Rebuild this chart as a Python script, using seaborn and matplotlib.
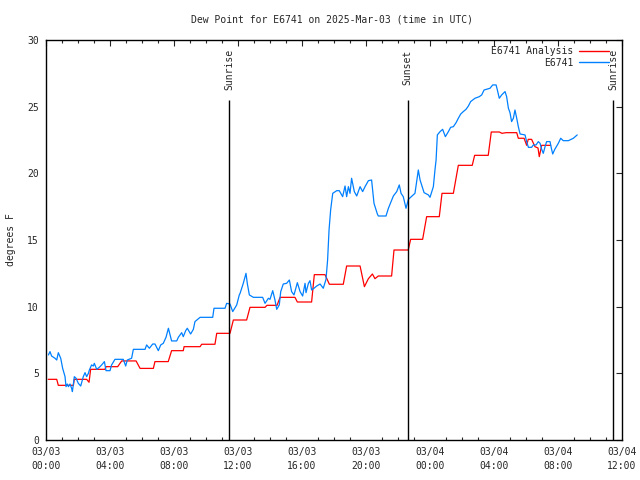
import numpy as np
import pandas as pd
import matplotlib
matplotlib.use("Agg")
import matplotlib.pyplot as plt
from matplotlib.ticker import MultipleLocator
import seaborn as sns

# ---------------- data ----------------
title = "Dew Point for E6741 on 2025-Mar-03 (time in UTC)"
ylabel = "degrees F"

# hours since 2025-03-03 00:00 UTC
obs_hours = [0.15, 0.25, 0.35, 0.56, 0.67, 0.77, 0.92, 1.04, 1.19, 1.25, 1.33, 1.40, 1.50,
             1.60, 1.65, 1.77, 1.88, 2.02, 2.17, 2.33, 2.44, 2.54, 2.65, 2.71, 2.85, 2.96,
             3.02, 3.17, 3.33, 3.48, 3.65, 3.75, 4.00, 4.10, 4.31, 4.83, 4.98, 5.08, 5.35,
             5.46, 6.19, 6.29, 6.46, 6.67, 6.81, 7.02, 7.17, 7.33, 7.50, 7.65, 7.85, 8.17,
             8.27, 8.48, 8.58, 8.73, 8.83, 9.04, 9.21, 9.31, 9.63, 10.42, 10.50, 11.19,
             11.29, 11.50, 11.67, 11.92, 12.08, 12.13, 12.33, 12.50, 12.58, 12.71, 12.96,
             13.54, 13.69, 13.90, 14.00, 14.17, 14.31, 14.42, 14.58, 14.67, 14.83, 15.04,
             15.21, 15.35, 15.50, 15.71, 15.88, 16.04, 16.19, 16.25, 16.40, 16.50, 16.60,
             16.75, 16.92, 17.13, 17.33, 17.50, 17.60, 17.69, 17.79, 17.92, 18.17, 18.33,
             18.54, 18.69, 18.79, 18.90, 19.00, 19.10, 19.27, 19.42, 19.63, 19.79, 19.94,
             20.15, 20.35, 20.50, 20.71, 20.77, 21.25, 21.40, 21.54, 21.71, 21.92, 22.08,
             22.19, 22.33, 22.50, 22.65, 22.79, 23.06, 23.21, 23.27, 23.38, 23.63, 23.90,
             24.00, 24.21, 24.31, 24.38, 24.46, 24.63, 24.79, 24.96, 25.15, 25.29, 25.46,
             25.63, 25.77, 25.92, 26.08, 26.25, 26.40, 26.54, 26.81, 27.08, 27.23, 27.38,
             27.75, 27.92, 28.13, 28.21, 28.33, 28.48, 28.69, 28.79, 28.90, 29.00, 29.10,
             29.21, 29.31, 29.42, 29.52, 29.63, 29.94, 30.04, 30.15, 30.35, 30.46, 30.63,
             30.77, 30.88, 30.98, 31.08, 31.19, 31.29, 31.50, 31.60, 31.67, 31.80, 32.02,
             32.17, 32.33, 32.65, 32.96, 33.20]
obs_values = [6.38, 6.63, 6.30, 6.13, 6.00, 6.55, 6.13, 5.38, 4.75, 4.00, 4.20, 4.00, 4.20,
              3.88, 3.63, 4.75, 4.63, 4.25, 4.05, 4.75, 5.05, 4.75, 5.00, 5.25, 5.63, 5.55,
              5.75, 5.30, 5.45, 5.63, 5.88, 5.20, 5.20, 5.63, 6.05, 6.05, 5.55, 6.00, 6.13,
              6.80, 6.80, 7.13, 6.88, 7.20, 7.20, 6.70, 7.13, 7.25, 7.70, 8.38, 7.43, 7.43,
              7.70, 8.05, 7.75, 8.20, 8.38, 7.95, 8.30, 8.88, 9.20, 9.20, 9.88, 9.88,
              10.25, 10.20, 9.63, 10.13, 10.88, 11.00, 11.75, 12.50, 11.75, 10.88, 10.70,
              10.70, 10.25, 10.63, 10.55, 11.20, 10.50, 9.80, 10.13, 11.13, 11.70, 11.75,
              12.00, 11.13, 10.88, 11.80, 11.13, 10.80, 11.75, 11.05, 11.75, 11.95, 11.25,
              11.38, 11.55, 11.70, 11.38, 12.05, 13.50, 15.75, 17.25, 18.50, 18.70, 18.70,
              18.25, 19.05, 18.25, 19.00, 18.50, 19.63, 18.63, 18.30, 19.00, 18.63, 19.00,
              19.45, 19.50, 17.75, 16.95, 16.80, 16.80, 17.38, 17.80, 18.30, 18.63, 19.13,
              18.50, 18.25, 17.38, 18.05, 18.20, 18.50, 19.75, 20.25, 19.50, 18.55, 18.38,
              18.20, 19.00, 20.25, 21.00, 22.88, 23.13, 23.30, 22.75, 23.13, 23.45, 23.50,
              23.80, 24.13, 24.45, 24.63, 24.80, 25.05, 25.38, 25.63, 25.75, 25.88, 26.25,
              26.38, 26.63, 26.63, 26.25, 25.63, 25.88, 26.13, 25.75, 24.88, 24.55, 23.88,
              24.13, 24.75, 24.13, 23.50, 22.95, 22.88, 22.38, 21.95, 21.95, 22.13, 22.13,
              22.38, 22.25, 21.80, 21.50, 22.00, 22.38, 22.38, 21.80, 21.45, 21.80, 22.25,
              22.63, 22.45, 22.45, 22.63, 22.88]

ana_hours = [0.14, 0.67, 0.77, 1.71, 1.77, 2.54, 2.69, 2.79, 3.69, 3.75, 4.48, 4.73, 5.63,
             5.88, 6.71, 6.81, 7.64, 7.85, 8.58, 8.63, 9.63, 9.73, 10.56, 10.67, 11.50,
             11.71, 12.54, 12.75, 13.69, 13.81, 14.44, 14.63, 15.56, 15.71, 16.60, 16.77,
             17.44, 17.71, 18.58, 18.79, 19.63, 19.90, 20.15, 20.40, 20.56, 20.77, 21.60,
             21.75, 22.64, 22.79, 23.54, 23.79, 24.58, 24.75, 25.46, 25.77, 26.64, 26.79,
             27.64, 27.83, 28.33, 28.50, 28.75, 29.42, 29.52, 29.88, 30.04, 30.14, 30.35,
             30.56, 30.75, 30.83, 30.98, 31.54]
ana_values = [4.55, 4.55, 4.10, 4.10, 4.55, 4.55, 4.33, 5.30, 5.30, 5.50, 5.50, 5.93, 5.93,
              5.37, 5.37, 5.88, 5.88, 6.70, 6.70, 7.00, 7.00, 7.18, 7.18, 8.00, 8.00,
              9.00, 9.00, 9.95, 9.95, 10.10, 10.10, 10.70, 10.70, 10.35, 10.35, 12.40,
              12.40, 11.68, 11.68, 13.05, 13.05, 11.50, 12.10, 12.45, 12.10, 12.30, 12.30,
              14.25, 14.25, 15.05, 15.05, 16.75, 16.75, 18.50, 18.50, 20.60, 20.60, 21.35,
              21.35, 23.10, 23.10, 23.00, 23.05, 23.05, 22.63, 22.63, 22.10, 22.55, 22.55,
              22.00, 21.90, 21.25, 22.10, 22.10]

sun_hours = [11.44, 22.6, 35.44]
sun_labels = ["Sunrise", "Sunset", "Sunrise"]

xtick_hours = [0, 4, 8, 12, 16, 20, 24, 28, 32, 36]
xtick_labels = ["03/03\n00:00", "03/03\n04:00", "03/03\n08:00", "03/03\n12:00",
                "03/03\n16:00", "03/03\n20:00", "03/04\n00:00", "03/04\n04:00",
                "03/04\n08:00", "03/04\n12:00"]
yticks = [0, 5, 10, 15, 20, 25, 30]

series_names = ["E6741 Analysis", "E6741"]
series_colors = ["#ff0000", "#0080ff"]

# ---------------- plot ----------------
sns.set_style("white")
plt.rcParams["font.family"] = ["DejaVu Sans Mono"]
plt.rcParams["font.size"] = 7

fig = plt.figure(figsize=(6.4, 4.8), dpi=100)
ax = fig.add_axes([46 / 640, 40 / 480, 576 / 640, 400 / 480])

df_ana = pd.DataFrame({"hour": ana_hours, "value": ana_values, "series": series_names[0]})
df_obs = pd.DataFrame({"hour": obs_hours, "value": obs_values, "series": series_names[1]})
df = pd.concat([df_ana, df_obs], ignore_index=True)

sns.lineplot(data=df, x="hour", y="value", hue="series", hue_order=series_names,
             palette=series_colors, linewidth=0.9, ax=ax, sort=False, estimator=None)

# sunrise / sunset markers
for h, lab in zip(sun_hours, sun_labels):
    ax.vlines(h, 0, 25.5, color="black", linewidth=1.0)
    ax.text(h, 29.3, lab, rotation=90, ha="center", va="top", fontsize=7)

ax.set_xlim(0, 36)
ax.set_ylim(0, 30)
ax.set_xticks(xtick_hours)
ax.set_xticklabels(xtick_labels, linespacing=1.5)
ax.xaxis.set_minor_locator(MultipleLocator(1))
ax.set_yticks(yticks)
ax.set_yticklabels([str(v) for v in yticks])

ax.tick_params(axis="both", which="major", direction="in", length=4, width=0.8,
               top=True, right=True, pad=5, labelsize=7)
ax.tick_params(axis="x", which="minor", direction="in", length=2.2, width=0.8,
               top=True, bottom=True)
for s in ax.spines.values():
    s.set_visible(True)
    s.set_color("black")
    s.set_linewidth(1.0)

ax.set_xlabel("")
ax.set_ylabel("")
fig.text(11 / 640, 0.5, ylabel, rotation=90, ha="center", va="center", fontsize=7)
fig.text(332 / 640, 1 - 20 / 480, title, ha="center", va="center", fontsize=7)

leg = ax.legend(loc="upper right", bbox_to_anchor=(1.0 - 11 / 576, 1.0 - 4 / 400),
                frameon=False, markerfirst=False, fontsize=7,
                handlelength=3.0, handletextpad=0.6, borderaxespad=0.0,
                labelspacing=0.15, borderpad=0.25)
for line in leg.get_lines():
    line.set_linewidth(1.0)

fig.savefig("out.png", dpi=100)
